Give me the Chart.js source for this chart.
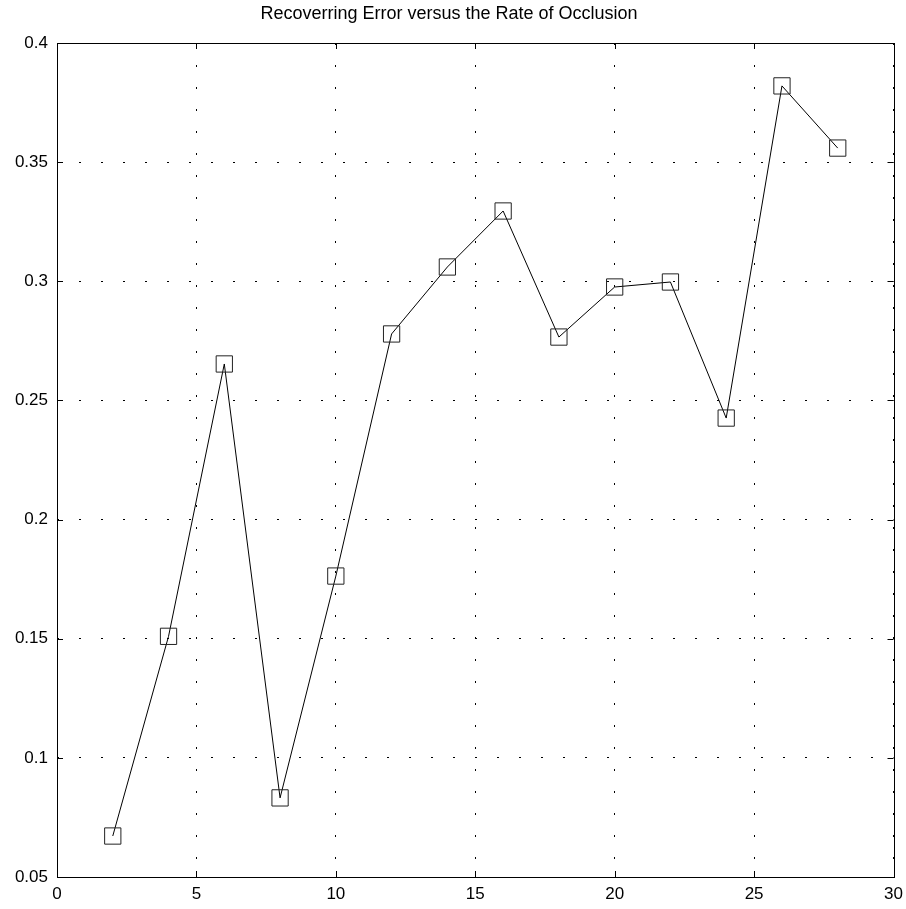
<!DOCTYPE html>
<html>
<head>
<meta charset="utf-8">
<script src="https://cdn.jsdelivr.net/npm/chart.js@4"></script>
<style>
  html, body { margin: 0; padding: 0; background: #fff; }
  #wrap { width: 906px; height: 909px; }
</style>
</head>
<body>
<div id="wrap"><canvas id="chart" width="906" height="909"></canvas></div>
<script>
// occlusion rate (x) and recovering error (y)
var occlusionRates = [2, 4, 6, 8, 10, 12, 14, 16, 18, 20, 22, 24, 26, 28];
var recoverErrors = [0.0672, 0.151, 0.2653, 0.0832, 0.1763, 0.2779, 0.306, 0.3295, 0.2766, 0.2976, 0.2997, 0.2426, 0.382, 0.3559];
var xTicks = [0, 5, 10, 15, 20, 25, 30];
var yTicks = [0.05, 0.1, 0.15, 0.2, 0.25, 0.3, 0.35, 0.4];
var titleText = 'Recoverring Error versus the Rate of Occlusion';

var points = occlusionRates.map(function(x, i) {
    return { x: x, y: recoverErrors[i] };
});

var fontFamily = '"Liberation Sans", Arial, sans-serif';

// frame, inward ticks and title drawn like the original figure
var framePlugin = {
    id: 'frame',
    afterDraw: function(chart) {
        var ctx = chart.ctx;
        var a = chart.chartArea;
        var xs = chart.scales.x, ys = chart.scales.y;
        ctx.save();
        ctx.strokeStyle = '#000';
        ctx.lineWidth = 1;
        ctx.strokeRect(Math.round(a.left) + 0.5, Math.round(a.top) + 0.5,
                       Math.round(a.right - a.left), Math.round(a.bottom - a.top));
        ctx.beginPath();
        xTicks.forEach(function(v) {
            var px = Math.round(xs.getPixelForValue(v)) + 0.5;
            ctx.moveTo(px, a.bottom); ctx.lineTo(px, a.bottom - 6);
            ctx.moveTo(px, a.top); ctx.lineTo(px, a.top + 6);
        });
        yTicks.forEach(function(v) {
            var py = Math.round(ys.getPixelForValue(v)) + 0.5;
            ctx.moveTo(a.left, py); ctx.lineTo(a.left + 6, py);
            ctx.moveTo(a.right, py); ctx.lineTo(a.right - 6, py);
        });
        ctx.stroke();
        ctx.fillStyle = '#000';
        ctx.font = '18px ' + fontFamily;
        ctx.textAlign = 'center';
        ctx.textBaseline = 'middle';
        ctx.fillText(titleText, 449, 14);
        ctx.restore();
    }
};

var ctx = document.getElementById('chart').getContext('2d');
var myChart = new Chart(ctx, {
    type: 'line',
    data: {
        datasets: [{
            data: points,
            borderColor: '#000',
            borderWidth: 1,
            pointStyle: 'rect',
            pointRadius: 11.5,
            pointBorderColor: '#222',
            pointBorderWidth: 1,
            pointBackgroundColor: 'rgba(0,0,0,0)',
            tension: 0
        }]
    },
    options: {
        responsive: false,
        animation: false,
        events: [],
        layout: { padding: { top: 43, right: 12, left: 0, bottom: 0 } },
        plugins: {
            legend: { display: false },
            title: { display: false },
            tooltip: { enabled: false }
        },
        scales: {
            x: {
                type: 'linear',
                min: 0, max: 30,
                afterBuildTicks: function(scale) {
                    scale.ticks = xTicks.map(function(v) { return { value: v }; });
                },
                afterFit: function(scale) {
                    scale.height = 32;
                    scale.paddingLeft = 0;
                    scale.paddingRight = 0;
                },
                grid: { color: '#000', lineWidth: 1, drawTicks: false },
                border: { display: false, dash: [2, 20] },
                ticks: {
                    color: '#000',
                    padding: 7,
                    maxRotation: 0,
                    font: { family: fontFamily, size: 17 },
                    callback: function(v) { return String(v); }
                }
            },
            y: {
                type: 'linear',
                min: 0.05, max: 0.4,
                afterBuildTicks: function(scale) {
                    scale.ticks = yTicks.map(function(v) { return { value: v }; });
                },
                afterFit: function(scale) {
                    scale.width = 57;
                    scale.paddingTop = 0;
                    scale.paddingBottom = 0;
                },
                grid: { color: '#000', lineWidth: 1, drawTicks: false },
                border: { display: false, dash: [2, 20] },
                ticks: {
                    color: '#000',
                    padding: 9,
                    font: { family: fontFamily, size: 17 },
                    callback: function(v) { return String(Math.round(v * 100) / 100); }
                }
            }
        }
    },
    plugins: [framePlugin]
});
</script>
</body>
</html>
